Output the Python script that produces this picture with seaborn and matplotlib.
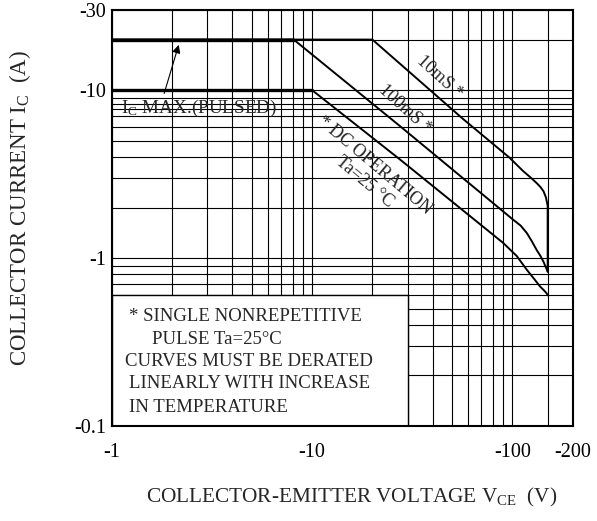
import matplotlib
matplotlib.use("Agg")
import matplotlib.pyplot as plt
import seaborn as sns
from matplotlib.ticker import FixedLocator, FixedFormatter, NullFormatter

# -------------------------------
# Safe operating area curves (magnitudes, the axis labels carry the minus sign)
v_10ms = [1, 20, 57, 97, 113, 124, 132, 138, 143, 147, 150, 150]
i_10ms = [20, 20, 6.7, 3.95, 3.3, 3.0, 2.8, 2.65, 2.5, 2.3, 2.05, 0.83]

v_100ms = [1, 8.1, 27.5, 101, 110, 118, 125, 132, 138, 143, 147, 150]
i_100ms = [20, 20, 6.1, 1.69, 1.56, 1.41, 1.26, 1.12, 1.03, 0.95, 0.88, 0.83]

v_dc = [1, 10, 27.5, 90, 105, 118, 128, 137.5, 144, 148.5, 150]
i_dc = [10, 10, 3.86, 1.23, 1.03, 0.852, 0.755, 0.677, 0.641, 0.615, 0.6]

# axis ticks / grid
x_major = [1, 10, 100, 200]
x_major_labels = ["-1", "-10", "-100", "-200"]
x_minor = [2, 3, 4, 5, 6, 7, 8, 9, 20, 30, 40, 50, 60, 70, 80, 90, 150]
y_major = [0.1, 1, 10, 30]
y_major_labels = ["-0.1", "-1", "-10", "-30"]
y_minor = [0.2, 0.3, 0.4, 0.5, 0.6, 0.7, 0.8, 0.9,
           2, 3, 4, 5, 6, 7, 7.7, 8.3, 9, 20]

note_lines = ["* SINGLE NONREPETITIVE", "PULSE Ta=25\u00b0C",
              "CURVES MUST BE DERATED", "LINEARLY WITH INCREASE",
              "IN TEMPERATURE"]

# -------------------------------
sns.set_theme(style="white")
plt.rcParams["font.family"] = ["Liberation Serif", "DejaVu Serif"]
plt.rcParams["mathtext.fontset"] = "custom"
plt.rcParams["mathtext.rm"] = "Liberation Serif"
plt.rcParams["mathtext.it"] = "Liberation Serif:italic"

W, H = 597, 521
fig = plt.figure(figsize=(W / 100, H / 100), dpi=100)
ax = fig.add_axes([111.7 / W, (H - 426) / H, 461 / W, 416 / H])


def px(x, y):
    return x / W, 1 - y / H


ax.set_xscale("log")
ax.set_yscale("log")
ax.set_xlim(1, 200)
ax.set_ylim(0.1, 30)

ax.xaxis.set_major_locator(FixedLocator(x_major))
ax.xaxis.set_major_formatter(FixedFormatter(x_major_labels))
ax.xaxis.set_minor_locator(FixedLocator(x_minor))
ax.xaxis.set_minor_formatter(NullFormatter())
ax.yaxis.set_major_locator(FixedLocator(y_major))
ax.yaxis.set_major_formatter(FixedFormatter(y_major_labels))
ax.yaxis.set_minor_locator(FixedLocator(y_minor))
ax.yaxis.set_minor_formatter(NullFormatter())

ax.tick_params(which="both", length=0, labelsize=14.5, colors="black")
ax.tick_params(axis="x", pad=12)
ax.tick_params(axis="y", pad=4)
ax.grid(which="both", color="black", lw=0.8)
ax.set_axisbelow(True)
for s in ax.spines.values():
    s.set_color("black")
    s.set_linewidth(1.5)

# white note box covering the lower-left grid
ax.fill_between([1, 30], 0.1, 0.6, facecolor="white", edgecolor="black",
                lw=1.0, zorder=1)

# curves
for v, i in [(v_10ms, i_10ms), (v_100ms, i_100ms), (v_dc, i_dc)]:
    sns.lineplot(x=v, y=i, ax=ax, color="black", lw=1.4, sort=False,
                 estimator=None, zorder=3)
# heavy flat limits
sns.lineplot(x=v_100ms[:2], y=i_100ms[:2], ax=ax, color="black", lw=2.4,
             sort=False, estimator=None, zorder=3)
sns.lineplot(x=v_dc[:2], y=i_dc[:2], ax=ax, color="black", lw=2.4,
             sort=False, estimator=None, zorder=3)

# labels along curves
ax.text(43.6, 11.9, "10mS *", rotation=-42, rotation_mode="anchor",
        ha="center", va="center", fontsize=13, zorder=4)
ax.text(29.1, 7.67, "100mS *", rotation=-42, rotation_mode="anchor",
        ha="center", va="center", fontsize=13, zorder=4)
ax.text(20.6, 3.55, "* DC OPERATION", rotation=-40, rotation_mode="anchor",
        ha="center", va="center", fontsize=13, zorder=4)
ax.text(18.2, 2.85, "Ta=25 \u00b0C", rotation=-40, rotation_mode="anchor",
        ha="center", va="center", fontsize=13, zorder=4)

# pulsed Ic max pointer
ax.text(1.11, 7.8, r"I$_{\rm C}$ MAX.(PULSED)", ha="left", va="center",
        fontsize=13.8, zorder=4)
ax.annotate("", xy=(2.18, 19.3), xytext=(1.81, 9.2),
            arrowprops=dict(arrowstyle="-|>", color="black", lw=0.8,
                            mutation_scale=12), zorder=4)

# note text
note_x = [129.3, 151.7, 125, 129.3, 129.3]
note_y = [316.7, 339, 361, 383, 407]
for t, x, y in zip(note_lines, note_x, note_y):
    fig.text(*px(x, y), t, ha="left", va="center", fontsize=13.5)

# axis titles
fig.text(*px(351.5, 502), r"COLLECTOR-EMITTER VOLTAGE V$_{\rm CE}$  (V)",
         ha="center", va="baseline", fontsize=15.3)
fig.text(*px(20, 207.5), r"COLLECTOR CURRENT I$_{\rm C}$  (A)",
         ha="center", va="center", rotation=90, fontsize=16.5)

fig.savefig("out.png", dpi=100)
